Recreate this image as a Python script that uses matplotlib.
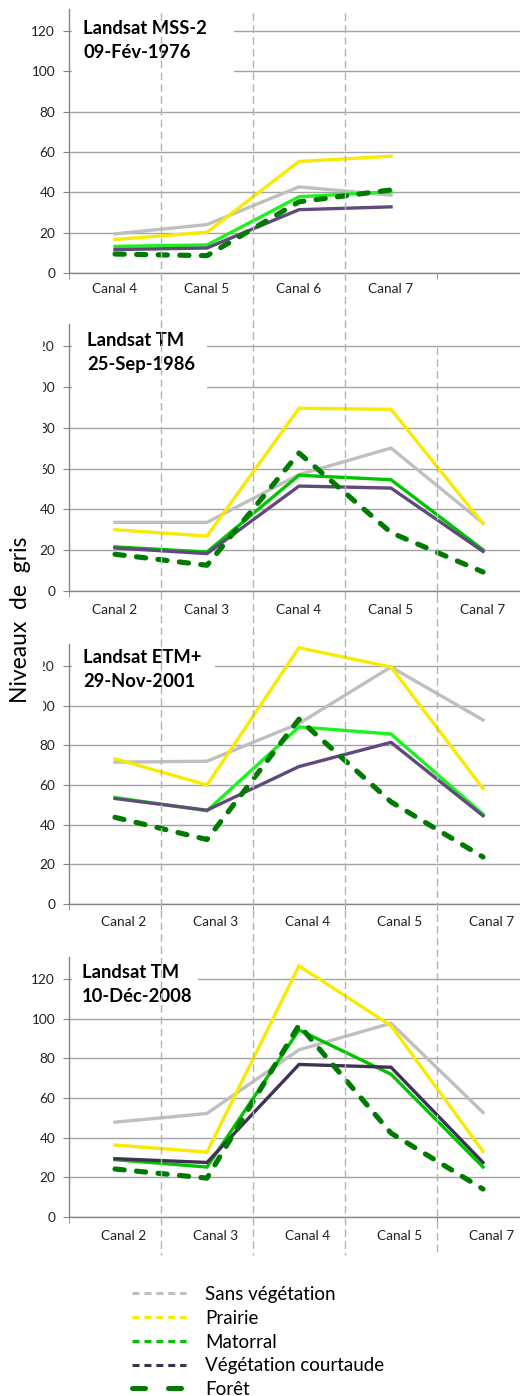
import matplotlib
matplotlib.use("Agg")
import matplotlib.pyplot as plt
import matplotlib.transforms as mtransforms
from matplotlib.lines import Line2D
from matplotlib.patches import Rectangle

plt.rcParams['font.family'] = ['Lato', 'DejaVu Sans']

W, H = 520, 1396

# categories
canaux_mss = ["Canal 4", "Canal 5", "Canal 6", "Canal 7"]
canaux_tm = ["Canal 2", "Canal 3", "Canal 4", "Canal 5", "Canal 7"]
series_names = ["Sans végétation", "Prairie", "Matorral", "Végétation courtaude", "Forêt"]

# Landsat MSS-2, 09-Fév-1976
mss76_sans = [19.4, 24.0, 42.7, 38.6]
mss76_prairie = [16.6, 20.2, 55.3, 57.9]
mss76_matorral = [13.2, 13.9, 37.8, 40.3]
mss76_courtaude = [11.6, 12.4, 31.4, 32.8]
mss76_foret = [9.4, 8.6, 35.3, 41.2]

# Landsat TM, 25-Sep-1986
tm86_sans = [33.6, 33.6, 57.0, 70.0, 33.3]
tm86_prairie = [30.0, 26.9, 89.5, 89.0, 33.0]
tm86_matorral = [21.6, 19.1, 56.7, 54.5, 20.2]
tm86_courtaude = [21.1, 18.3, 51.4, 50.4, 19.4]
tm86_foret = [18.0, 12.6, 67.6, 28.6, 9.3]

# Landsat ETM+, 29-Nov-2001
etm01_sans = [71.5, 72.0, 91.0, 119.5, 92.8]
etm01_prairie = [73.2, 60.0, 129.2, 119.5, 58.2]
etm01_matorral = [53.7, 47.0, 89.3, 85.7, 45.3]
etm01_courtaude = [53.2, 47.3, 69.3, 81.5, 44.5]
etm01_foret = [43.7, 32.5, 93.2, 51.5, 23.7]

# Landsat TM, 10-Déc-2008
tm08_sans = [47.8, 52.2, 84.3, 97.7, 52.7]
tm08_prairie = [36.3, 32.7, 126.6, 96.5, 33.1]
tm08_matorral = [28.9, 25.2, 94.3, 72.0, 25.2]
tm08_courtaude = [29.4, 27.5, 76.9, 75.5, 27.5]
tm08_foret = [24.2, 19.6, 96.8, 42.3, 14.1]

yticks = [0, 20, 40, 60, 80, 100, 120]

panels = [
    dict(title=("Landsat MSS-2", "09-Fév-1976"), cats=canaux_mss,
         data=[mss76_sans, mss76_prairie, mss76_matorral, mss76_courtaude, mss76_foret],
         zero=273, scale=242 / 120, green="#1cf21c", purple="#5f4a7b",
         tx=83, tb=(34.5, 58.5), box=(72, 13, 234, 76), lab_dx=0, pad=7, clip=[]),
    dict(title=("Landsat TM", "25-Sep-1986"), cats=canaux_tm,
         data=[tm86_sans, tm86_prairie, tm86_matorral, tm86_courtaude, tm86_foret],
         zero=591, scale=245 / 120, green="#00c400", purple="#5f4a7b",
         tx=87, tb=(346, 370), box=(72, 327, 207, 392), lab_dx=0, pad=9, clip=[120, 100, 80, 60]),
    dict(title=("Landsat ETM+", "29-Nov-2001"), cats=canaux_tm,
         data=[etm01_sans, etm01_prairie, etm01_matorral, etm01_courtaude, etm01_foret],
         zero=904, scale=238 / 120, green="#1cf21c", purple="#5f4a7b",
         tx=83, tb=(663, 687), box=(72, 647, 215, 697), lab_dx=9, pad=9, clip=[120, 100]),
    dict(title=("Landsat TM", "10-Déc-2008"), cats=canaux_tm,
         data=[tm08_sans, tm08_prairie, tm08_matorral, tm08_courtaude, tm08_foret],
         zero=1217, scale=238 / 120, green="#00c400", purple="#3f3152",
         tx=82, tb=(978, 1002), box=(72, 960, 198, 1007), lab_dx=9, pad=9, clip=[]),
]

fig = plt.figure(figsize=(W / 100, H / 100), dpi=100)

axes = []
for p in panels:
    top = p["zero"] - 131 * p["scale"]
    ax = fig.add_axes([69 / W, 1 - p["zero"] / H, 460 / W, (p["zero"] - top) / H])
    axes.append(ax)
    x = list(range(len(p["cats"])))
    cols = ["#bfbfbf", "#f8ea00", p["green"], p["purple"]]
    for vals, c in zip(p["data"][:4], cols):
        ax.plot(x, vals, color=c, lw=2.4, solid_joinstyle="miter", zorder=3)
    ax.plot(x, p["data"][4], color="#007a00", lw=3.7, dashes=(1.8, 2.4),
            dash_capstyle="round", zorder=4)

    ax.set_xlim(-0.5, 4.5)
    ax.set_ylim(0, 131)
    ax.set_yticks(yticks)
    ax.set_xticks(x)
    ax.set_xticklabels(p["cats"])
    ax.set_xticks([i - 0.5 for i in range(6)], minor=True)
    ax.tick_params(axis="x", which="major", length=0, pad=p["pad"], labelsize=9.8, labelcolor="#222222")
    ax.tick_params(axis="x", which="minor", length=4, color="#868686", direction="out")
    ax.tick_params(axis="y", length=4, color="#868686", pad=6, labelsize=9.8, labelcolor="#222222")
    ax.grid(axis="y", color="#a3a3a3", lw=1, zorder=0)
    ax.set_axisbelow(True)
    for s in ["top", "right"]:
        ax.spines[s].set_visible(False)
    for s in ["left", "bottom"]:
        ax.spines[s].set_color("#868686")
        ax.spines[s].set_linewidth(1)
    ax.patch.set_alpha(0)

    if p["lab_dx"]:
        off = mtransforms.ScaledTranslation(p["lab_dx"] / 100, 0, fig.dpi_scale_trans)
        for lab in ax.get_xticklabels():
            lab.set_transform(lab.get_transform() + off)

    # white title box hiding the gridlines
    bx0, by0, bx1, by1 = p["box"]
    fig.add_artist(Rectangle((bx0 / W, 1 - by1 / H), (bx1 - bx0) / W, (by1 - by0) / H,
                             transform=fig.transFigure, facecolor="white", edgecolor="none", zorder=5))
    for line, yb in zip(p["title"], p["tb"]):
        fig.text(p["tx"] / W, 1 - yb / H, line, fontsize=13.2, fontweight="bold",
                 va="baseline", ha="left", color="black", zorder=6)

fig.canvas.draw()
# left part of some tick labels is cut off in the original
for ax, p in zip(axes, panels):
    for val, lab in zip(ax.get_yticks(), ax.get_yticklabels()):
        if val in p["clip"]:
            lab.set_clip_box(mtransforms.Bbox.from_extents(43, 0, W, H))
            lab.set_clip_on(True)

# vertical dashed separators across the whole figure
for xs, y0 in [(161, 13), (253, 13), (345, 13), (437, 347)]:
    fig.add_artist(Line2D([xs / W, xs / W], [1 - y0 / H, 1 - 1255 / H], transform=fig.transFigure,
                          color="#b3b3b3", lw=1, dashes=(5.5, 3), zorder=10))

fig.text(21 / W, 1 - 620 / H, "Niveaux  de  gris", rotation=90, fontsize=16.5,
         va="center", ha="center", color="black")

handles = [
    Line2D([], [], color="#bfbfbf", lw=2.2, dashes=(2.3, 1.6)),
    Line2D([], [], color="#f8ea00", lw=2.2, dashes=(2.3, 1.6)),
    Line2D([], [], color="#00c400", lw=2.2, dashes=(2.3, 1.6)),
    Line2D([], [], color="#3f3152", lw=2.2, dashes=(2.3, 1.6)),
    Line2D([], [], color="#007a00", lw=3.6, dashes=(2.6, 4.6), dash_capstyle="round"),
]
fig.legend(handles, series_names, loc="upper left", bbox_to_anchor=(132 / W, 1 - 1286 / H),
           frameon=False, fontsize=13.5, handlelength=2.9, handletextpad=1.0,
           labelspacing=0.36, borderpad=0, borderaxespad=0)

fig.savefig("out.png", dpi=100)
